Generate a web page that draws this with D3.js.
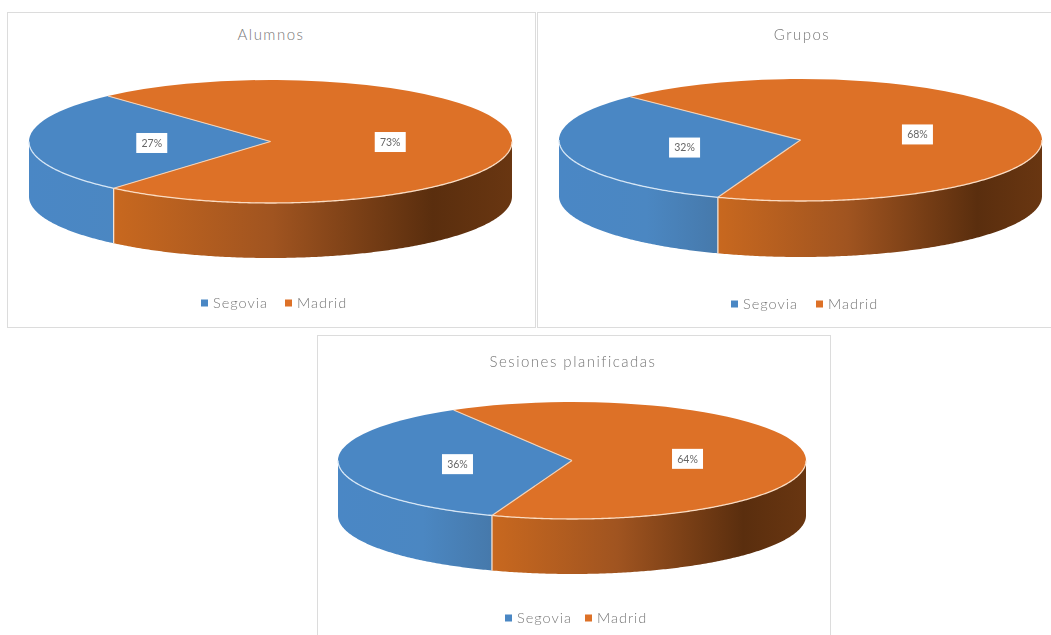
<!DOCTYPE html>
<html>
<head>
<meta charset="utf-8">
<title>Alumnos, Grupos, Sesiones planificadas</title>
<script src="https://d3js.org/d3.v7.min.js"></script>
<style>
  html, body { margin: 0; padding: 0; background: #fff; overflow: hidden; }
  svg { display: block; filter: blur(0.6px); }
  text { font-family: Lato, "Open Sans", sans-serif; font-weight: 300; }
  .title { font-size: 15px; fill: #777; letter-spacing: 1.5px; text-anchor: middle; }
  .legend { font-size: 14.5px; fill: #777; letter-spacing: 1px; }
  .pct { font-size: 10.5px; fill: #666; text-anchor: middle; font-weight: 400; }
</style>
</head>
<body>
<svg id="chart" width="1051" height="635"></svg>
<script>
/* data */
var categories = ["Segovia", "Madrid"];
var chartTitles = ["Alumnos", "Grupos", "Sesiones planificadas"];
var alumnos = [27, 73];
var grupos = [32, 68];
var sesiones = [36, 64];
var seriesValues = [alumnos, grupos, sesiones];

/* layout of each panel, one entry per chart */
var panels = [
  { frame: [7, 12, 528, 315], cx: 270.5, cy: 141.5, rx: 241.5, ry: 61.5, depth: 55, first: 220.5, titleX: 271, titleY: 40, legendX: 201, legendY: 303, madridX: 285 },
  { frame: [537, 12, 520, 315], cx: 800.5, cy: 140, rx: 241.5, ry: 61, depth: 56, first: 200, titleX: 802, titleY: 40, legendX: 731, legendY: 304, madridX: 816 },
  { frame: [317, 335, 513, 310], cx: 572, cy: 460.5, rx: 234, ry: 58.5, depth: 55, first: 200, titleX: 573, titleY: 367, legendX: 505, legendY: 618, madridX: 585 }
];
var labelNudge = [2, -1];

var colour = d3.scaleOrdinal().domain(categories).range(["#4a87c4", "#dd7127"]);
var svg = d3.select("#chart");
var defs = svg.append("defs");

/* side wall gradients */
function wallGradient(id, stops){
  var g = defs.append("linearGradient").attr("id", id);
  stops.forEach(function(s){
    g.append("stop").attr("offset", s[0]).attr("stop-color", s[1]);
  });
  return g;
}
wallGradient("wall-Madrid", [[0, "#c8681f"], [0.4, "#a05420"], [0.8, "#5a2e0e"], [1, "#693611"]]);

var pie = d3.pie().sort(null);
var toRad = Math.PI / 180;

function drawPanel(values, i){
  var p = panels[i];
  var g = svg.append("g");

  /* blue wall only darkens near a third of the way across the pie */
  wallGradient("wall-Segovia-" + i, [[0, "#4a87c5"], [0.55, "#4b87c2"], [1, "#4679ab"]])
    .attr("gradientUnits", "userSpaceOnUse")
    .attr("x1", p.cx - p.rx).attr("y1", 0)
    .attr("x2", p.cx - p.rx * 0.34).attr("y2", 0);

  g.append("rect")
    .attr("x", p.frame[0] + 0.5).attr("y", p.frame[1] + 0.5)
    .attr("width", p.frame[2]).attr("height", p.frame[3])
    .attr("fill", "#fff").attr("stroke", "#dcdcdc");

  g.append("text").attr("class", "title")
    .attr("x", p.titleX).attr("y", p.titleY)
    .text(chartTitles[i]);

  var slices = pie
    .startAngle(p.first * toRad)
    .endAngle((p.first + 360) * toRad)(values);

  var rimX = function(a){ return p.cx + p.rx * Math.sin(a); };
  var rimY = function(a){ return p.cy - p.ry * Math.cos(a); };
  var wall = d3.area()
    .x(rimX)
    .y0(rimY)
    .y1(function(a){ return rimY(a) + p.depth; });
  var rim = d3.line().x(rimX).y(rimY);

  /* top face, a unit arc squashed to the ellipse */
  var arc = d3.arc().innerRadius(0).outerRadius(p.rx);
  var top = g.append("g")
    .attr("transform", "translate(" + p.cx + "," + p.cy + ") scale(1," + (p.ry / p.rx) + ")");
  top.selectAll("path")
    .data(slices)
    .enter().append("path")
    .attr("d", arc)
    .attr("fill", function(d, k){ return colour(categories[k]); });

  /* only the front half of the rim (90 to 270 degrees) shows a wall */
  slices.forEach(function(s, k){
    [0, 2 * Math.PI].forEach(function(turn){
      var a0 = Math.max(s.startAngle, Math.PI / 2 + turn);
      var a1 = Math.min(s.endAngle, 3 * Math.PI / 2 + turn);
      if (a1 <= a0) return;
      var steps = d3.range(a0, a1, 0.01).concat([a1]);
      var fill = k === 0 ? "url(#wall-Segovia-" + i + ")" : "url(#wall-Madrid)";
      g.append("path").attr("d", wall(steps)).attr("fill", fill);
      g.append("path").attr("d", rim(steps))
        .attr("fill", "none")
        .attr("stroke", k === 0 ? "#d6e6f5" : "#fbdcc2")
        .attr("stroke-width", 1.3);
    });
  });

  /* dividers on the face and down the wall */
  slices.forEach(function(s){
    var a = s.startAngle;
    g.append("line")
      .attr("x1", p.cx).attr("y1", p.cy)
      .attr("x2", rimX(a)).attr("y2", rimY(a))
      .attr("stroke", "#f3d3b8").attr("stroke-width", 1.1);
    if (Math.cos(a) < 0) {
      g.append("line")
        .attr("x1", rimX(a)).attr("y1", rimY(a))
        .attr("x2", rimX(a)).attr("y2", rimY(a) + p.depth)
        .attr("stroke", "#fbe9da").attr("stroke-width", 1.2);
    }
  });

  /* percentage boxes sit near the arc centroid */
  slices.forEach(function(s, k){
    var c = arc.centroid(s);
    var x = p.cx + c[0] + labelNudge[k];
    var y = p.cy + c[1] * p.ry / p.rx + 1;
    g.append("rect")
      .attr("x", x - 15.5).attr("y", y - 10)
      .attr("width", 31).attr("height", 20)
      .attr("fill", "#fff");
    g.append("text").attr("class", "pct")
      .attr("x", x).attr("y", y + 3.8)
      .text(s.data + "%");
  });

  /* legend */
  categories.forEach(function(name, k){
    var lx = k === 0 ? p.legendX : p.madridX;
    g.append("rect")
      .attr("x", lx).attr("y", p.legendY - 3.5)
      .attr("width", 7).attr("height", 7)
      .attr("fill", colour(name));
    g.append("text").attr("class", "legend")
      .attr("x", lx + 12).attr("y", p.legendY + 5)
      .text(name);
  });
}

seriesValues.forEach(drawPanel);
</script>
</body>
</html>
